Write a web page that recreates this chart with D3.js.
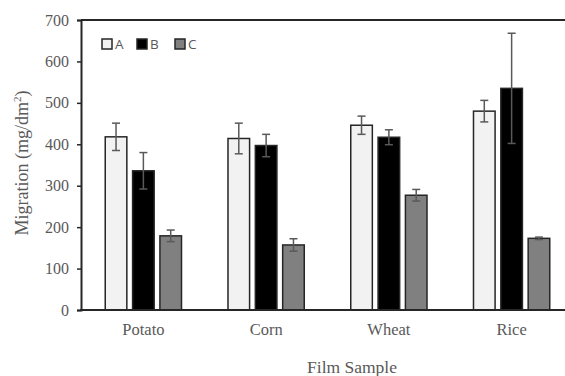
<!DOCTYPE html>
<html>
<head>
<meta charset="utf-8">
<script src="https://cdn.jsdelivr.net/npm/d3@7"></script>
<style>
  body { margin: 0; background: #fff; }
  svg { display: block; }
</style>
</head>
<body>
<svg width="565" height="376"></svg>
<script>
// data
const categories = ["Potato", "Corn", "Wheat", "Rice"];
const seriesNames = ["A", "B", "C"];
const valuesA = [418, 414, 446, 480];
const valuesB = [336, 397, 417, 535];
const valuesC = [179, 157, 277, 173];
const errorsA = [33, 37, 22, 26];
const errorsB = [44, 27, 18, 133];
const errorsC = [14, 15, 14, 3];
const yTicks = [0, 100, 200, 300, 400, 500, 600, 700];

const colors = { A: "#f2f2f2", B: "#000000", C: "#808080" };
const serif = "'Liberation Serif', 'DejaVu Serif', serif";

const svg = d3.select("svg");
const plotLeft = 81, plotTop = 20, plotBottom = 310;

// rows for binding
const rows = [];
categories.forEach((c, i) => {
  rows.push({ cat: c, s: "A", v: valuesA[i], e: errorsA[i] });
  rows.push({ cat: c, s: "B", v: valuesB[i], e: errorsB[i] });
  rows.push({ cat: c, s: "C", v: valuesC[i], e: errorsC[i] });
});

const x0 = d3.scaleBand().domain(categories).range([82, 573]);
const x1 = d3.scaleBand().domain(seriesNames)
  .range([-41, 41]).paddingInner(0.21).paddingOuter(0.105);
const y = d3.scaleLinear().domain([0, 700]).range([plotBottom, plotTop]);

const cx = d => x0(d.cat) + x0.bandwidth() / 2;

// frame: top line
svg.append("line")
  .attr("x1", plotLeft).attr("x2", 565)
  .attr("y1", y(700)).attr("y2", y(700))
  .attr("stroke", "#262626").attr("stroke-width", 2);

// y axis
const yAxis = svg.append("g")
  .attr("transform", `translate(${plotLeft},0)`)
  .call(d3.axisLeft(y).tickValues(yTicks).tickSize(4).tickPadding(8));
yAxis.select(".domain").attr("stroke", "#262626").attr("stroke-width", 2);
yAxis.selectAll(".tick line").attr("stroke", "#262626").attr("stroke-width", 1.5);
yAxis.selectAll(".tick text")
  .attr("fill", "#595959")
  .style("font-family", serif)
  .style("font-size", "16px");

// bars
svg.selectAll("rect.bar")
  .data(rows)
  .enter()
  .append("rect")
  .attr("class", "bar")
  .attr("x", d => cx(d) + x1(d.s))
  .attr("y", d => y(d.v))
  .attr("width", x1.bandwidth())
  .attr("height", d => y(0) - y(d.v))
  .attr("fill", d => colors[d.s])
  .attr("stroke", "#262626")
  .attr("stroke-width", 1.5);

// error bars
const err = svg.selectAll("g.err")
  .data(rows)
  .enter()
  .append("g")
  .attr("class", "err")
  .attr("stroke", "#595959")
  .attr("stroke-width", 1.5);
const mid = d => cx(d) + x1(d.s) + x1.bandwidth() / 2;
err.append("line")
  .attr("x1", mid).attr("x2", mid)
  .attr("y1", d => y(d.v + d.e)).attr("y2", d => y(d.v - d.e));
err.append("line")
  .attr("x1", d => mid(d) - 4).attr("x2", d => mid(d) + 4)
  .attr("y1", d => y(d.v + d.e)).attr("y2", d => y(d.v + d.e));
err.append("line")
  .attr("x1", d => mid(d) - 4).attr("x2", d => mid(d) + 4)
  .attr("y1", d => y(d.v - d.e)).attr("y2", d => y(d.v - d.e));

// x axis
const xAxis = svg.append("g")
  .attr("transform", `translate(0,${plotBottom})`)
  .call(d3.axisBottom(x0).tickSize(0).tickPadding(13));
xAxis.select(".domain").remove();
svg.append("line")
  .attr("x1", plotLeft - 1).attr("x2", 565)
  .attr("y1", plotBottom).attr("y2", plotBottom)
  .attr("stroke", "#262626").attr("stroke-width", 2);
xAxis.selectAll(".tick text")
  .attr("fill", "#595959")
  .style("font-family", serif)
  .style("font-size", "16.5px");

// axis titles
svg.append("text")
  .attr("x", 352).attr("y", 373)
  .attr("text-anchor", "middle")
  .attr("fill", "#595959")
  .style("font-family", serif)
  .style("font-size", "17.5px")
  .text("Film Sample");

const yt = svg.append("text")
  .attr("transform", "translate(28,163) rotate(-90)")
  .attr("text-anchor", "middle")
  .attr("fill", "#595959")
  .style("font-family", serif)
  .style("font-size", "18px");
yt.append("tspan").text("Migration (mg/dm");
yt.append("tspan").attr("dy", -7).style("font-size", "11px").text("2");
yt.append("tspan").attr("dy", 7).text(")");

// legend
const legendX = [102, 137, 175];
const legend = svg.selectAll("g.legend")
  .data(seriesNames)
  .enter()
  .append("g")
  .attr("class", "legend")
  .attr("transform", (d, i) => `translate(${legendX[i]},39)`);
legend.append("rect")
  .attr("width", 10).attr("height", 10)
  .attr("fill", d => colors[d])
  .attr("stroke", "#262626").attr("stroke-width", 1.5);
legend.append("text")
  .attr("x", 13).attr("y", 10)
  .attr("fill", "#595959")
  .style("font-family", "'Open Sans', 'Liberation Sans', sans-serif")
  .style("font-size", "13.5px")
  .text(d => d);
</script>
</body>
</html>
